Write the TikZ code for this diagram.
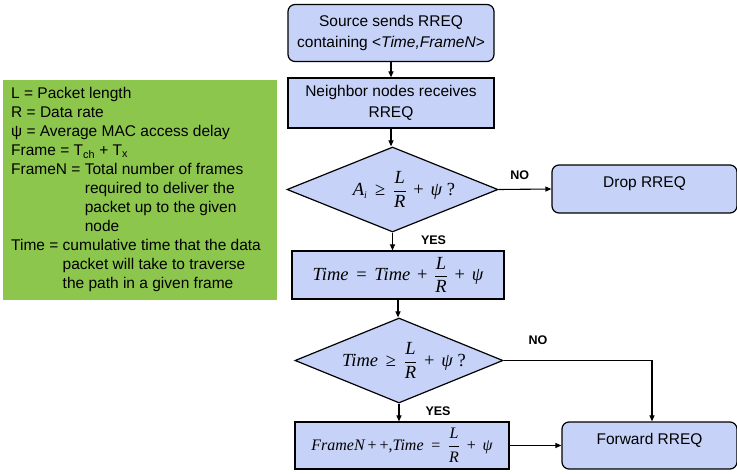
\documentclass[tikz,border=0pt]{standalone}
\usepackage{fontspec}
\setmainfont{Liberation Sans}
\newfontfamily\tnr{Liberation Serif}
\usetikzlibrary{shapes.geometric,arrows.meta}
\definecolor{boxblue}{RGB}{198,210,247}
\definecolor{legendgreen}{RGB}{141,198,77}
\newcommand{\mi}[1]{\mbox{\tnr\itshape #1}}
\newcommand{\mr}[1]{\mbox{\tnr #1}}
\newcommand{\fr}[2]{\displaystyle\frac{\mi{#1}}{\mi{#2}}}
\newcommand{\opeq}{\mathrel{\,\mr{=}\,}}
\newcommand{\opge}{\mathrel{\,\mr{≥}\,}}
\newcommand{\opplus}{\mathbin{\,\mr{+}\,}}
\begin{document}
\begin{tikzpicture}[x=1pt,y=1pt,
  every node/.style={inner sep=0pt},
  boxbase/.style={draw=black, line width=1.2pt, fill=boxblue, font=\fontsize{15.5}{21}\selectfont, align=center},
  procbox/.style={boxbase, rectangle},
  roundbox/.style={boxbase, rectangle, rounded corners=7pt},
  decision/.style={boxbase, diamond},
  flow/.style={line width=1.1pt, draw=black, -{Triangle[length=6pt,width=5pt]}},
  lbl/.style={font=\fontsize{12.5}{12.5}\selectfont\bfseries},
  formula/.style={font=\fontsize{18.5}{18.5}\selectfont}
]
\useasboundingbox (0,0) rectangle (737,-474);

% legend
\node[fill=legendgreen, minimum width=274pt, minimum height=220pt, anchor=north west] (legend) at (3,-80) {};
\node[anchor=north west, align=left, font=\fontsize{15.5}{19}\selectfont] (legtext) at (11,-87) {%
L = Packet length\\
R = Data rate\\
ψ = Average MAC access delay\\
Frame = T\textsubscript{ch} + T\textsubscript{x}\\
FrameN = Total number of frames\\
\phantom{FrameN = }required to deliver the\\
\phantom{FrameN = }packet up to the given\\
\phantom{FrameN = }node\\
Time = cumulative time that the data\\
\phantom{Time = }packet will take to traverse\\
\phantom{Time = }the path in a given frame};

% flow nodes
\node[roundbox, minimum width=206pt, minimum height=57pt] (src) at (391,-33) {Source sends RREQ\\containing <\textit{Time,FrameN}>};
\node[procbox, minimum width=206pt, minimum height=50pt] (nbr) at (391,-103) {Neighbor nodes receives\\RREQ};
\node[decision, minimum width=211pt, minimum height=85pt] (d1) at (392.5,-189.5) {};
\node[formula] (d1text) at (404,-189.5) {$\mi{A}_{\mbox{\fontsize{10}{10}\selectfont\tnr\itshape i}}\opge\fr{L}{R}\opplus\mi{ψ}\;\mr{?}$};
\node[roundbox, minimum width=185pt, minimum height=48pt, text depth=14pt] (drop) at (644.5,-189) {Drop RREQ};
\node[procbox, formula, minimum width=212pt, minimum height=48pt] (upd) at (398,-275) {$\mi{Time}\opeq\mi{Time}\opplus\fr{L}{R}\opplus\mi{ψ}$};
\node[decision, minimum width=208pt, minimum height=85pt] (d2) at (399,-360.5) {};
\node[formula] (d2text) at (404,-360.5) {$\mi{Time}\opge\fr{L}{R}\opplus\mi{ψ}\;\mr{?}$};
\node[procbox, font=\fontsize{16}{16}\selectfont, minimum width=214pt, minimum height=47pt] (inc) at (402,-445.5) {$\mi{FrameN}\,\mr{+}\,\mr{+}\mr{,}\mi{Time}\opeq\fr{L}{R}\opplus\mi{ψ}$};
\node[roundbox, minimum width=175pt, minimum height=47pt, text depth=14pt] (fwd) at (649.5,-445.5) {Forward RREQ};

% connectors
\draw[flow] (src.south) -- (nbr.north);
\draw[flow] (nbr.south) -- (nbr.south |- d1.north);
\draw[flow] (d1.east) -- (drop.west) node[lbl, pos=0.4, above=9pt] (no1) {NO};
\draw[flow] (d1.south) -- (d1.south |- upd.north) node[lbl, pos=0.45, right=28pt] (yes1) {YES};
\draw[flow] (upd.south) -- (upd.south |- d2.north);
\draw[flow] (d2.south) -- (d2.south |- inc.north) node[lbl, pos=0.45, right=26pt] (yes2) {YES};
\coordinate (bend) at (652,-360.5);
\draw[flow] (d2.east) -- (bend) -- (bend |- fwd.north);
\node[lbl] (no2) at (538,-340) {NO};
\draw[flow] (inc.east) -- (fwd.west);
\end{tikzpicture}
\end{document}
